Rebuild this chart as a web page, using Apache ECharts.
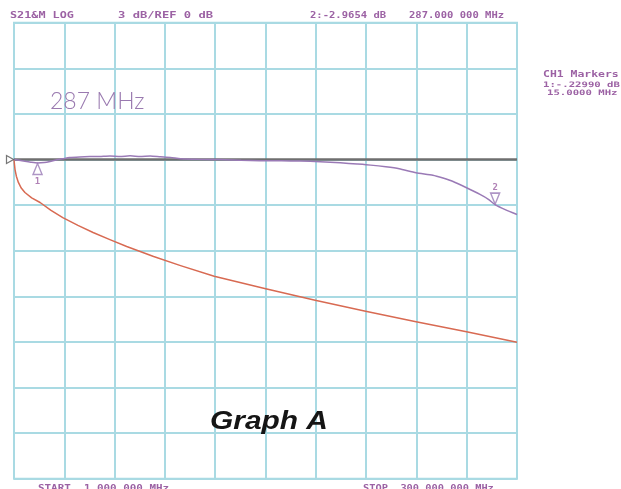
<!DOCTYPE html>
<html>
<head>
<meta charset="utf-8">
<script src="https://cdn.jsdelivr.net/npm/echarts@6/dist/echarts.min.js"></script>
<style>html,body{margin:0;padding:0;background:#fff}#c{width:621px;height:489px}</style>
</head>
<body>
<div id="c"></div>
<script>
// Frequencies in MHz, levels in dB
const redFreq = [1, 1.3, 1.6, 2.4, 3.6, 5.3, 7.5, 11.5, 16.5, 23, 30, 39, 48, 58, 68, 84, 100, 120, 150, 180, 210, 240, 270, 300];
const redDb   = [0, -0.35, -0.66, -1.1, -1.51, -1.88, -2.17, -2.52, -2.83, -3.35, -3.82, -4.33, -4.80, -5.27, -5.72, -6.38, -6.98, -7.68, -8.49, -9.26, -9.98, -10.68, -11.33, -12.02];

const purpleFreq = [1, 4, 7.5, 11, 15, 19, 22.4, 26, 30, 34, 40, 46, 52, 58, 64, 70, 76, 82, 88, 94, 100, 110, 124, 136, 147, 160, 171, 183, 195, 205, 213, 222, 230, 240, 250, 256, 262, 270, 278, 283, 287, 293, 300];
const purpleDb   = [0, -0.05, -0.12, -0.18, -0.23, -0.2, -0.13, -0.03, 0.05, 0.13, 0.17, 0.19, 0.2, 0.23, 0.19, 0.24, 0.2, 0.23, 0.18, 0.14, 0.05, 0.01, 0, -0.05, -0.08, -0.09, -0.1, -0.15, -0.22, -0.3, -0.37, -0.48, -0.61, -0.87, -1.03, -1.22, -1.45, -1.86, -2.3, -2.62, -2.97, -3.3, -3.62];

const refFreq = [1, 300];
const refDb = [0, 0];

const markerFreq = [15, 287];
const markerDb = [-0.23, -2.9654];
const markerNames = ['1', '2'];

const gridDivX = [0, 10];
const yRange = [-21, 9];
const yStep = 3;

const headerTexts = ['S21&M LOG', '3 dB/REF 0 dB', '2:-2.9654 dB', '287.000 000 MHz'];
const sideTexts = ['CH1 Markers', '1:-.22990 dB', '15.0000 MHz'];
const footerTexts = ['START  1.000 000 MHz', 'STOP  300.000 000 MHz'];
const bigLabel = '287 MHz';
const title = 'Graph A';

const pair = (xs, ys) => xs.map((x, i) => [x, ys[i]]);

const gridColor = '#a9dae3';
const purple = '#9a7ab6';
const textPurple = '#9c62a4';
const mono = '"DejaVu Sans Mono", monospace';

const chart = echarts.init(document.getElementById('c'), null, {renderer: 'canvas'});
const monoText = (txt, x, y, sx, fs) => ({
  type: 'text', x: x, y: y, scaleX: sx, z: 10,
  style: {text: txt, fill: textPurple, font: 'bold ' + (fs || 9) + 'px ' + mono, textVerticalAlign: 'middle'}
});
const markLabel = (pos, dist) => ({show: true, position: pos, distance: dist, formatter: '{b}', color: textPurple,
  fontSize: 9, fontFamily: 'DejaVu Sans Mono', fontWeight: 'bold'});

chart.setOption({
  animation: false,
  backgroundColor: '#ffffff',
  grid: {left: 14, right: 104, top: 22.7, bottom: 10.3, show: true, borderColor: gridColor, borderWidth: 2},
  xAxis: [
    {type: 'value', min: redFreq[0], max: 300, show: false},
    {type: 'value', min: gridDivX[0], max: gridDivX[1], interval: 1, position: 'bottom',
     axisLine: {show: false}, axisTick: {show: false}, axisLabel: {show: false},
     splitLine: {show: true, lineStyle: {color: gridColor, width: 2}}}
  ],
  yAxis: {type: 'value', min: yRange[0], max: yRange[1], interval: yStep,
    axisLine: {show: false}, axisTick: {show: false}, axisLabel: {show: false},
    splitLine: {show: true, lineStyle: {color: gridColor, width: 2}}},
  series: [
    {type: 'line', xAxisIndex: 0, data: pair(refFreq, refDb), showSymbol: false,
     lineStyle: {color: '#6f6f6f', width: 2.5}, z: 3},
    {type: 'line', xAxisIndex: 0, data: pair(redFreq, redDb), showSymbol: false, smooth: false,
     lineStyle: {color: '#d86a52', width: 1.5, join: 'round'}, z: 4},
    {type: 'line', xAxisIndex: 0, data: pair(purpleFreq, purpleDb), showSymbol: false, smooth: 0.2,
     lineStyle: {color: purple, width: 1.5}, z: 5},
    {type: 'scatter', xAxisIndex: 0, z: 6,
     data: [{value: [markerFreq[0], markerDb[0]], name: markerNames[0], symbol: 'triangle', symbolSize: [9, 11], symbolOffset: [0, 6],
             label: markLabel('bottom', 2)},
            {value: [markerFreq[1], markerDb[1]], name: markerNames[1], symbol: 'path://M0,0 L10,0 L5,12 Z', symbolSize: [9, 11], symbolOffset: [0, -6],
             label: markLabel('top', 0)}],
     itemStyle: {color: 'rgba(255,255,255,0)', borderColor: purple, borderWidth: 1.5}},
    {type: 'scatter', xAxisIndex: 0, z: 6,
     data: [[refFreq[0], refDb[0]]], symbol: 'path://M0,0 L10,5 L0,10 Z', symbolSize: [7, 8], symbolOffset: [-4, 0],
     itemStyle: {color: 'rgba(255,255,255,0)', borderColor: '#555', borderWidth: 1.3}}
  ],
  graphic: [
    monoText(headerTexts[0], 10, 16, 1.31),
    monoText(headerTexts[1], 118, 16, 1.35),
    monoText(headerTexts[2], 310, 16, 1.17),
    monoText(headerTexts[3], 409, 16, 1.17),
    monoText(sideTexts[0], 543, 75, 1.27),
    monoText(sideTexts[1], 543, 85, 1.42, 7.5),
    monoText(sideTexts[2], 547, 93.5, 1.42, 7.5),
    monoText(footerTexts[0], 38, 489, 1.21),
    monoText(footerTexts[1], 363, 489, 1.15),
    {type: 'text', x: 50, y: 102, z: 10,
     style: {text: bigLabel, fill: '#9a7ab0', font: '300 23px Lato, "DejaVu Sans"', textVerticalAlign: 'middle'}},
    {type: 'text', x: 210, y: 422, z: 10, scaleX: 1.15,
     style: {text: title, fill: '#151515', font: 'italic bold 26px "Liberation Sans", Arial', textVerticalAlign: 'middle'}}
  ]
});
</script>
</body>
</html>
